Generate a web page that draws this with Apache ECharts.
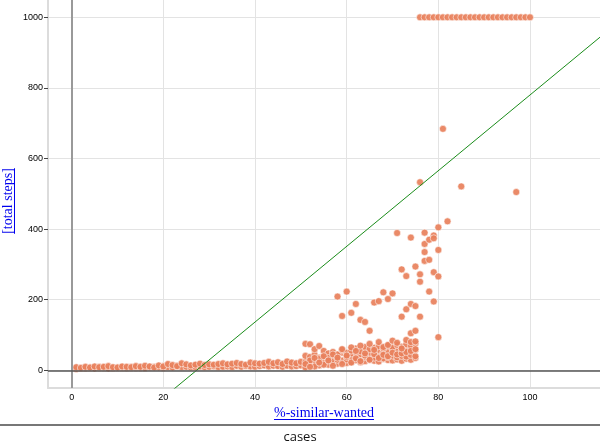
<!DOCTYPE html>
<html><head><meta charset="utf-8">
<script src="https://cdn.jsdelivr.net/npm/echarts/dist/echarts.min.js"></script>
<style>html,body{margin:0;padding:0;background:#fff}#c{width:600px;height:445px}</style>
</head><body><div id="c"></div>
<script>
// ---- data ----
const wantedLow = [1,2,3,4,5,6,7,8,9,10,11,12,13,14,15,16,17,18,19,20,21,22,23,24,25,26,27,28,29,30,31,32,33,34,35,36,37,38,39,40,41,42,43,44,45,46,47,48,49,50];
const stepsLowA = [6,8,5,9,7,10,6,8,7,9,6,8,10,7,9,8,11,9,10,12,14,10,13,15,11,12,14,13,10,12,11,13,12,15,14,12,16,13,15,14,17,15,18,16,14,19,16,18,15,17];
const stepsLowB = [4,5,7,6,5,7,8,5,6,7,8,6,7,9,7,6,8,10,8,7,9,8,11,9,10,8,9,11,9,10,12,9,10,11,9,13,10,12,11,10,12,14,11,13,12,10,13,11,12,14];
const stepsLowC = [9,7,10,8,11,9,10,12,9,8,11,10,9,12,10,13,11,8,14,11,18,15,12,20,17,14,16,19,15,17,16,18,20,17,19,21,18,16,22,20,19,21,24,20,23,18,25,22,20,24];

const wantedMid = [51,52,53,54,55,56,57,58,59,60,61,62,63,64,65,66,67,68,69,70,71,72,73,74,75];
const stepsMidA = [12,15,18,14,20,16,22,19,25,21,24,28,23,26,30,27,25,32,29,28,31,27,33,30,35];
const stepsMidB = [24,20,27,25,22,30,26,33,28,31,35,29,34,38,32,36,40,34,38,42,37,41,39,44,40];
const stepsMidC = [41,38,44,36,42,40,47,43,50,45,48,52,46,55,50,53,58,51,56,60,54,62,57,64,59];
const stepsMidD = [75,74,60,69,55,48,52,45,58,50,56,62,54,66,60,64,68,62,70,65,72,67,74,70,76];
const stepsMidE = [8,28,11,32,16,35,13,30,18,38,22,34,26,42,30,46,35,44,40,50,45,48,52,55,60];
const stepsMidF = [18,10,35,22,40,28,45,36,60,42,65,55,70,48,75,58,80,66,72,84,78,62,86,80,82];

const wantedCapped = [76,77,78,79,80,81,82,83,84,85,86,87,88,89,90,91,92,93,94,95,96,97,98,99,100];
const stepsCapped = [1000,1000,1000,1000,1000,1000,1000,1000,1000,1000,1000,1000,1000,1000,1000,1000,1000,1000,1000,1000,1000,1000,1000,1000,1000];

const outlierWanted = [58,59,60,61,62,63,64,65,66,67,68,69,70,71,72,72,73,73,74,74,74,75,75,75,76,76,76,76,77,77,77,77,78,78,78,79,79,79,79,80,80,80,80,81,82,85,97];
const outlierSteps = [209,154,223,163,188,143,137,112,192,196,221,202,218,389,286,152,267,173,376,188,105,294,182,112,272,251,152,533,390,358,335,310,370,313,223,382,374,278,195,405,341,266,94,684,422,521,505];

const xTicks = [0,20,40,60,80,100];
const yTicks = [0,200,400,600,800,1000];

const fitSlope = 10.72;
const fitIntercept = -292;

const xTitle = '%-similar-wanted';
const yTitle = '[total steps]';
const footer = 'cases';

// ---- build ----
function pairs(xs, ys){ return xs.map((x,i)=>[x, ys[i]]); }
const points = [].concat(
  pairs(wantedLow, stepsLowA), pairs(wantedLow, stepsLowB), pairs(wantedLow, stepsLowC),
  pairs(wantedMid, stepsMidA), pairs(wantedMid, stepsMidB), pairs(wantedMid, stepsMidC),
  pairs(wantedMid, stepsMidD), pairs(wantedMid, stepsMidE), pairs(wantedMid, stepsMidF),
  pairs(wantedCapped, stepsCapped), pairs(outlierWanted, outlierSteps)
);
const xMin = -5.17, xMax = 115.27, yMin = -50, yMax = 1049;
const fitLine = [[xMin, fitSlope*xMin + fitIntercept], [xMax, fitSlope*xMax + fitIntercept]];

const ctx = document.createElement('canvas').getContext('2d');
ctx.font = '14px "Liberation Serif"';
const wX = ctx.measureText(xTitle).width;
const wY = ctx.measureText(yTitle).width;

const chart = echarts.init(document.getElementById('c'));
chart.setOption({
  animation: false,
  grid: {left: 48, right: 0, top: 0, bottom: 57, containLabel: false},
  xAxis: {
    type: 'value', min: xMin, max: xMax,
    axisLine: {show: true, onZero: false, lineStyle: {color: '#dcdcdc', width: 2}},
    axisTick: {show: false, customValues: xTicks},
    axisLabel: {customValues: xTicks, formatter: v => String(v), color: '#000', fontSize: 9, fontFamily: 'Liberation Sans', margin: 5},
    splitLine: {show: true, lineStyle: {color: '#e3e3e3', width: 1}}
  },
  yAxis: {
    type: 'value', min: yMin, max: yMax,
    axisLine: {show: true, onZero: false, lineStyle: {color: '#dcdcdc', width: 2}},
    axisTick: {show: true, length: 4, customValues: yTicks, lineStyle: {color: '#444', width: 1}},
    axisLabel: {customValues: yTicks, formatter: v => String(v), color: '#000', fontSize: 9, fontFamily: 'Liberation Sans', margin: 5},
    splitLine: {show: true, lineStyle: {color: '#e3e3e3', width: 1}}
  },
  series: [
    {
      type: 'line', data: [], z: 1, silent: true,
      markLine: {
        silent: true, symbol: ['none','none'], label: {show: false}, animation: false,
        data: [
          {xAxis: 0, lineStyle: {color: '#999', width: 2, type: 'solid'}},
          {yAxis: 0, lineStyle: {color: '#555', width: 1.5, type: 'solid'}}
        ]
      }
    },
    {
      type: 'scatter', data: points, z: 2, symbolSize: 7,
      itemStyle: {color: 'rgba(232,128,91,0.92)', borderColor: 'rgba(255,255,255,0.55)', borderWidth: 1, opacity: 1}
    },
    {
      type: 'line', data: fitLine, z: 3, showSymbol: false, clip: true, silent: true,
      lineStyle: {color: '#1a8c1a', width: 1}
    }
  ],
  graphic: [
    {type: 'line', shape: {x1: 0, y1: 425, x2: 600, y2: 425}, style: {stroke: '#777', lineWidth: 2}},
    {type: 'text', x: 300, y: 437, style: {text: footer, font: '13px "Open Sans"', fill: '#111', textAlign: 'center', textVerticalAlign: 'middle'}},
    {type: 'text', x: 324, y: 413, style: {text: xTitle, font: '14px "Liberation Serif"', fill: '#0000ee', textAlign: 'center', textVerticalAlign: 'middle'}},
    {type: 'rect', shape: {x: 324 - wX/2, y: 419, width: wX, height: 1}, style: {fill: '#0000ee'}},
    {type: 'group', x: 8, y: 201, rotation: Math.PI/2, children: [
      {type: 'text', x: 0, y: 0, style: {text: yTitle, font: '14px "Liberation Serif"', fill: '#0000ee', textAlign: 'center', textVerticalAlign: 'middle'}},
      {type: 'rect', shape: {x: -wY/2, y: 6, width: wY, height: 1}, style: {fill: '#0000ee'}}
    ]}
  ]
});
</script>
</body></html>
